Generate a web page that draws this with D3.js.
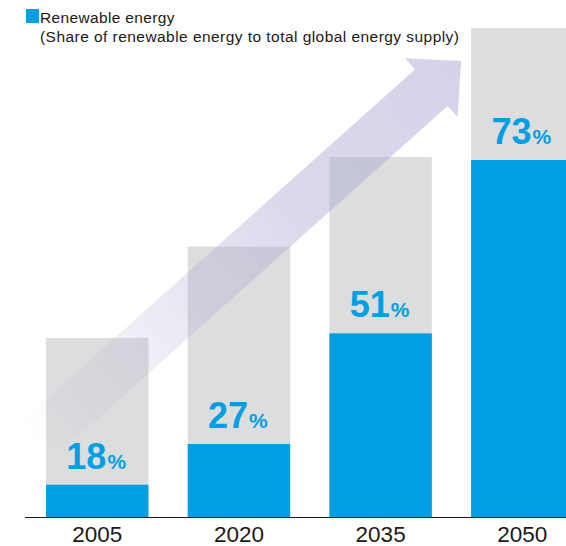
<!DOCTYPE html>
<html>
<head>
<meta charset="utf-8">
<script src="https://cdn.jsdelivr.net/npm/d3@7"></script>
<style>
  html, body { margin: 0; padding: 0; background: #fff; }
  svg { display: block; font-family: "Liberation Sans", Arial, Helvetica, sans-serif; }
</style>
</head>
<body>
<svg id="chart" width="566" height="546"></svg>
<script>
// Target years
const years = ["2005", "2020", "2035", "2050"];
// Total global energy supply (index, relative units)
const totalSupply = [100, 151, 201, 273];
// Share of renewable energy in total supply (%)
const renewableShare = [18, 27, 51, 73];

const W = 566, H = 546;
const baseY = 517;

const svg = d3.select("#chart");

const x = d3.scaleBand()
  .domain(years)
  .range([6.75, 612.8])
  .paddingInner(0.277)
  .paddingOuter(0.277);

const y = d3.scaleLinear()
  .domain([0, d3.max(totalSupply)])
  .range([baseY, 28]);

const rows = years.map((yr, i) => ({
  year: yr,
  total: totalSupply[i],
  share: renewableShare[i],
  renewable: totalSupply[i] * renewableShare[i] / 100
}));

const BLUE = "#009fe3";
const GREY = "#dcdddd";
const INK = "#231815";

// Total supply bars
svg.append("g").selectAll("rect.total")
  .data(rows).join("rect")
  .attr("class", "total")
  .attr("x", d => x(d.year))
  .attr("y", d => y(d.total))
  .attr("width", x.bandwidth())
  .attr("height", d => baseY - y(d.total))
  .attr("fill", GREY);

// Renewable portion
svg.append("g").selectAll("rect.ren")
  .data(rows).join("rect")
  .attr("class", "ren")
  .attr("x", d => x(d.year))
  .attr("y", d => y(d.renewable))
  .attr("width", x.bandwidth())
  .attr("height", d => baseY - y(d.renewable))
  .attr("fill", BLUE);

// Share labels
const lab = svg.append("g").selectAll("text.share")
  .data(rows).join("text")
  .attr("class", "share")
  .attr("x", d => x(d.year) + x.bandwidth() / 2 - 1)
  .attr("y", d => y(d.renewable) - 16)
  .attr("text-anchor", "middle")
  .attr("fill", BLUE)
  .attr("font-weight", "bold");
lab.append("tspan").attr("font-size", 36).text(d => d.share);
lab.append("tspan").attr("font-size", 21).attr("dx", 1).text("%");

// Growth arrow, running from the first bar up to the last one
const tail = [x(years[0]) + x.bandwidth() / 2 - 62, y(42)];
const tip = [x(years[3]) - 10, y(d3.max(totalSupply)) + 33];
const dx = tip[0] - tail[0], dy = tip[1] - tail[1];
const len = Math.hypot(dx, dy);
const u = [dx / len, dy / len];
const n = [-u[1], u[0]];
const shaftHalf = 24.5, headHalf = 39.5, headLen = 40;
const hb = [tip[0] - u[0] * headLen, tip[1] - u[1] * headLen];
const P = (c, k) => [c[0] + n[0] * k, c[1] + n[1] * k];
const arrowPts = [
  P(tail, shaftHalf), P(hb, shaftHalf), P(hb, headHalf), tip,
  P(hb, -headHalf), P(hb, -shaftHalf), P(tail, -shaftHalf)
];

const defs = svg.append("defs");
const grad = defs.append("linearGradient")
  .attr("id", "arrowFade")
  .attr("gradientUnits", "userSpaceOnUse")
  .attr("x1", tail[0]).attr("y1", tail[1])
  .attr("x2", tip[0]).attr("y2", tip[1]);
grad.append("stop").attr("offset", 0).attr("stop-color", "#a9a6d3").attr("stop-opacity", 0);
grad.append("stop").attr("offset", 0.12).attr("stop-color", "#a9a6d3").attr("stop-opacity", 0.1);
grad.append("stop").attr("offset", 0.6).attr("stop-color", "#a9a6d3").attr("stop-opacity", 0.42);
grad.append("stop").attr("offset", 1).attr("stop-color", "#a9a6d3").attr("stop-opacity", 0.5);

svg.append("path")
  .attr("d", d3.line()(arrowPts) + "Z")
  .attr("fill", "url(#arrowFade)");

// Baseline
svg.append("line")
  .attr("x1", 25).attr("x2", W)
  .attr("y1", baseY + 0.5).attr("y2", baseY + 0.5)
  .attr("stroke", INK).attr("stroke-width", 1);

// Year labels
const xAxis = d3.axisBottom(x).tickSize(0).tickPadding(0);
const ax = svg.append("g").attr("transform", `translate(0,${baseY})`).call(xAxis);
ax.select(".domain").remove();
ax.selectAll("text")
  .attr("y", 25).attr("dy", 0)
  .attr("font-size", 22.5)
  .attr("font-family", "Liberation Sans, Arial, sans-serif")
  .attr("fill", INK);

// Legend
const leg = svg.append("g");
leg.append("rect").attr("x", 26).attr("y", 9).attr("width", 13).attr("height", 14).attr("fill", BLUE);
leg.append("text").attr("x", 40).attr("y", 23).attr("font-size", 15.5).attr("letter-spacing", 0.35).attr("fill", INK)
  .text("Renewable energy");
leg.append("text").attr("x", 40).attr("y", 41.5).attr("font-size", 15.5).attr("letter-spacing", 0.45).attr("fill", INK)
  .text("(Share of renewable energy to total global energy supply)");
</script>
</body>
</html>
